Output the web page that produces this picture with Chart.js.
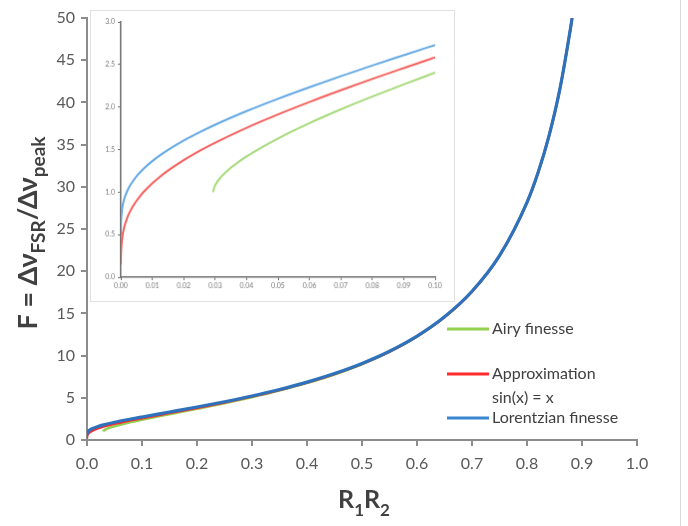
<!DOCTYPE html>
<html>
<head>
<meta charset="utf-8">
<script src="https://cdn.jsdelivr.net/npm/chart.js@4/dist/chart.umd.min.js"></script>
<style>
  html, body { margin: 0; padding: 0; background: #fff; }
  #wrap { position: relative; width: 688px; height: 526px; }
  #main { position: absolute; left: 0; top: 0; }
  #inset { position: absolute; left: 90px; top: 10px; background: #fff; border: 1px solid #e2e2e2; }
</style>
</head>
<body>
<div id="wrap">
  <canvas id="main" width="688" height="526"></canvas>
  <canvas id="inset" width="365" height="292"></canvas>
</div>
<script>
// main plot: R1R2 vs finesse
const xMain = [0.00001, 0.0001, 0.001, 0.005, 0.01, 0.02, 0.03, 0.05, 0.075, 0.1, 0.15, 0.2, 0.25, 0.3, 0.35, 0.4, 0.45, 0.5, 0.55, 0.6, 0.65, 0.7, 0.75, 0.8, 0.82, 0.84, 0.86, 0.88, 0.882];
const lorentzMain = [0.546, 0.682, 0.910, 1.186, 1.364, 1.606, 1.792, 2.097, 2.426, 2.729, 3.312, 3.904, 4.532, 5.219, 5.985, 6.857, 7.869, 9.065, 10.51, 12.30, 14.59, 17.62, 21.84, 28.16, 31.66, 36.04, 41.66, 49.15, 50.0];
const approxMain = [0.177, 0.317, 0.577, 0.899, 1.104, 1.376, 1.581, 1.913, 2.264, 2.584, 3.191, 3.801, 4.443, 5.141, 5.917, 6.798, 7.817, 9.020, 10.47, 12.27, 14.56, 17.59, 21.82, 28.14, 31.65, 36.03, 41.65, 49.14, 50.0];
const xAiryMain = [0.0294, 0.03, 0.035, 0.04, 0.05, 0.075, 0.1, 0.15, 0.2, 0.25, 0.3, 0.35, 0.4, 0.45, 0.5, 0.55, 0.6, 0.65, 0.7, 0.75, 0.8, 0.82, 0.84, 0.86, 0.88, 0.882];
const airyMain = [1.000, 1.080, 1.286, 1.419, 1.631, 2.049, 2.404, 3.052, 3.687, 4.347, 5.059, 5.846, 6.736, 7.764, 8.974, 10.43, 12.23, 14.53, 17.57, 21.81, 28.13, 31.64, 36.02, 41.64, 49.13, 50.0];

// inset: zoom on 0 .. 0.10
const xInset = [0.0, 0.00001, 0.00005, 0.0001, 0.0005, 0.001, 0.002, 0.003, 0.004, 0.005, 0.006, 0.0075, 0.01, 0.0125, 0.015, 0.02, 0.025, 0.03, 0.04, 0.05, 0.06, 0.07, 0.08, 0.09, 0.1];
const lorentzInset = [0.500, 0.546, 0.634, 0.682, 0.827, 0.910, 1.011, 1.082, 1.138, 1.186, 1.228, 1.284, 1.364, 1.434, 1.496, 1.606, 1.703, 1.792, 1.952, 2.097, 2.233, 2.363, 2.488, 2.609, 2.729];
const approxInset = [0.150, 0.177, 0.266, 0.317, 0.481, 0.577, 0.696, 0.778, 0.843, 0.899, 0.948, 1.012, 1.104, 1.183, 1.253, 1.376, 1.484, 1.581, 1.756, 1.913, 2.059, 2.197, 2.330, 2.458, 2.584];
const xAiryInset = [0.0294, 0.0295, 0.03, 0.032, 0.035, 0.04, 0.05, 0.06, 0.07, 0.08, 0.09, 0.1];
const airyInset = [1.000, 1.026, 1.080, 1.183, 1.286, 1.419, 1.631, 1.811, 1.973, 2.123, 2.266, 2.404];

const pts = (xs, ys) => xs.map((x, i) => ({ x: x, y: ys[i] }));

const FONT = "Lato, 'Liberation Sans', sans-serif";
const AXIS = "#8c8c8c";

function line(label, xs, ys, color, width) {
  return {
    label, data: pts(xs, ys), borderColor: color, backgroundColor: color,
    borderWidth: width, pointRadius: 0, showLine: true,
    cubicInterpolationMode: "monotone", fill: false
  };
}

// draws text with subscripts, centred on x,y
function richText(ctx, parts, x, y, size, subSize) {
  let w = 0;
  parts.forEach(p => {
    ctx.font = "bold " + (p.sub ? subSize : size) + "px " + FONT;
    w += ctx.measureText(p.t).width;
  });
  let cx = x - w / 2;
  ctx.textBaseline = "alphabetic";
  ctx.textAlign = "left";
  parts.forEach(p => {
    ctx.font = "bold " + (p.sub ? subSize : size) + "px " + FONT;
    ctx.fillText(p.t, cx, y + (p.sub ? size * 0.3 : 0));
    cx += ctx.measureText(p.t).width;
  });
}

const extras = {
  id: "extras",
  afterDraw(chart) {
    const ctx = chart.ctx;
    ctx.save();
    ctx.fillStyle = "#404040";
    // x title
    richText(ctx, [{ t: "R" }, { t: "1", sub: true }, { t: "R" }, { t: "2", sub: true }], 364, 508, 25, 17);
    // y title
    ctx.translate(37, 233);
    ctx.rotate(-Math.PI / 2);
    richText(ctx, [{ t: "F = \u0394\u03bd" }, { t: "FSR", sub: true }, { t: "/\u0394\u03bd" }, { t: "peak", sub: true }], 0, 0, 27, 19);
    ctx.restore();

    // legend
    ctx.save();
    const items = [
      { c: "#92d050", y: 329, lines: ["Airy finesse"] },
      { c: "#ff2a2a", y: 374, lines: ["Approximation", "sin(x) = x"] },
      { c: "#3a86d0", y: 418, lines: ["Lorentzian finesse"] }
    ];
    ctx.font = "16px " + FONT;
    ctx.fillStyle = "#404040";
    ctx.textBaseline = "middle";
    items.forEach(it => {
      ctx.strokeStyle = it.c;
      ctx.lineWidth = 3;
      ctx.beginPath();
      ctx.moveTo(447, it.y);
      ctx.lineTo(489, it.y);
      ctx.stroke();
      it.lines.forEach((t, k) => ctx.fillText(t, 492, it.y + k * 24));
    });
    // right frame edge
    ctx.strokeStyle = "#d9d9d9";
    ctx.lineWidth = 1;
    ctx.beginPath();
    ctx.moveTo(680.5, 0);
    ctx.lineTo(680.5, 526);
    ctx.stroke();
    ctx.restore();
  }
};

new Chart(document.getElementById("main"), {
  type: "scatter",
  data: {
    datasets: [
      line("Lorentzian finesse", xMain, lorentzMain, "#2e72bd", 3.2),
      line("Approximation sin(x) = x", xMain, approxMain, "#ff2a2a", 2.5),
      line("Airy finesse", xAiryMain, airyMain, "#92d050", 2.5)
    ]
  },
  options: {
    responsive: false,
    animation: false,
    layout: { padding: { left: 0, top: 18, right: 51, bottom: 0 } },
    plugins: { legend: { display: false }, tooltip: { enabled: false } },
    scales: {
      x: {
        type: "linear", min: 0, max: 1,
        afterFit: s => { s.height = 86; },
        ticks: { stepSize: 0.1, padding: 8, color: "#595959", font: { family: FONT, size: 16 },
                 callback: v => v.toFixed(1) },
        grid: { drawOnChartArea: false, drawTicks: true, tickLength: 6, color: AXIS, lineWidth: 2 },
        border: { color: AXIS, width: 2 }
      },
      y: {
        min: 0, max: 50,
        afterFit: s => { s.width = 87; },
        ticks: { stepSize: 5, padding: 6, color: "#595959", font: { family: FONT, size: 16 } },
        grid: { drawOnChartArea: false, drawTicks: true, tickLength: 6, color: AXIS, lineWidth: 2 },
        border: { color: AXIS, width: 2 }
      }
    }
  },
  plugins: [extras]
});

new Chart(document.getElementById("inset"), {
  type: "scatter",
  data: {
    datasets: [
      line("Lorentzian finesse", xInset, lorentzInset, "#64a8e4", 2),
      line("Approximation sin(x) = x", xInset, approxInset, "#f4605c", 2),
      line("Airy finesse", xAiryInset, airyInset, "#a6da7a", 2)
    ]
  },
  options: {
    responsive: false,
    animation: false,
    layout: { padding: { left: 0, top: 11, right: 19, bottom: 0 } },
    plugins: { legend: { display: false }, tooltip: { enabled: false } },
    scales: {
      x: {
        type: "linear", min: 0, max: 0.1,
        afterFit: s => { s.height = 24; },
        ticks: { stepSize: 0.01, padding: 2, color: "#7a7a7a", font: { family: FONT, size: 7 },
                 callback: v => v.toFixed(2) },
        grid: { drawOnChartArea: false, drawTicks: true, tickLength: 3, color: "#6f6f6f", lineWidth: 1 },
        border: { color: "#6f6f6f", width: 1.5 }
      },
      y: {
        min: 0, max: 3,
        afterFit: s => { s.width = 30; },
        ticks: { stepSize: 0.5, padding: 3, color: "#7a7a7a", font: { family: FONT, size: 7 },
                 callback: v => v.toFixed(1) },
        grid: { drawOnChartArea: false, drawTicks: true, tickLength: 3, color: "#6f6f6f", lineWidth: 1 },
        border: { color: "#6f6f6f", width: 1.5 }
      }
    }
  }
});
</script>
</body>
</html>
